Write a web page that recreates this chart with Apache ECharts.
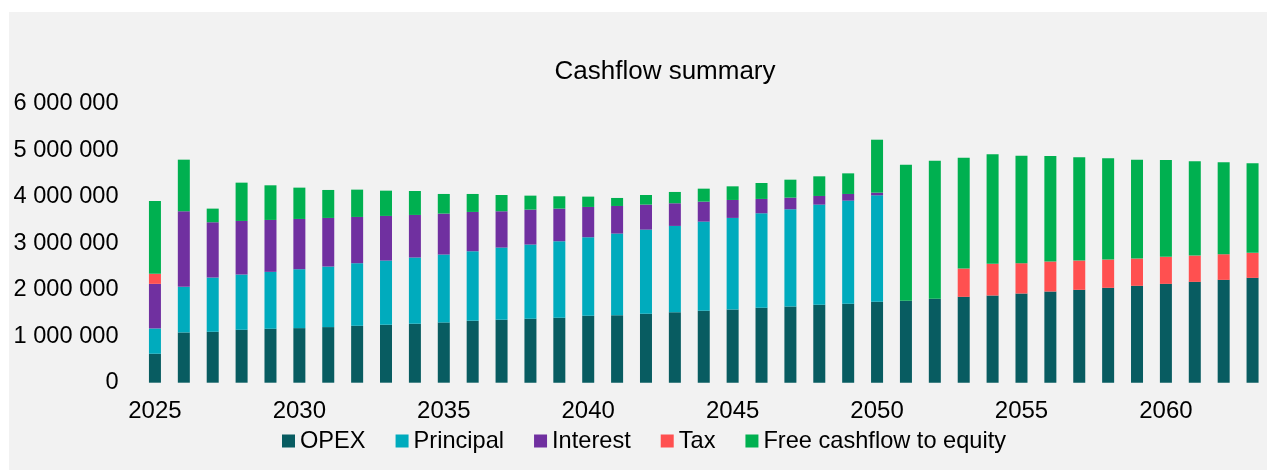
<!DOCTYPE html>
<html>
<head>
<meta charset="utf-8">
<script src="https://cdn.jsdelivr.net/npm/echarts@6/dist/echarts.min.js"></script>
<style>
  html, body { margin: 0; padding: 0; background: #ffffff; }
  #panel { position: absolute; left: 9px; top: 12px; width: 1258px; height: 458px; background: #f2f2f2; }
  #chart { position: absolute; left: 0; top: 0; width: 1267px; height: 470px; }
</style>
</head>
<body>
<div id="panel"></div>
<div id="chart"></div>
<script>
// Years of the cash flow projection
const years = [
  '2025','2026','2027','2028','2029','2030','2031','2032','2033','2034',
  '2035','2036','2037','2038','2039','2040','2041','2042','2043','2044',
  '2045','2046','2047','2048','2049','2050','2051','2052','2053','2054',
  '2055','2056','2057','2058','2059','2060','2061','2062','2063'
];

// Cash flow components per year
const opex = [
  622000, 1080000, 1094000, 1137000, 1159000, 1173000, 1195000, 1223000, 1245000, 1266000,
  1295000, 1330000, 1352000, 1373000, 1395000, 1438000, 1452000, 1481000, 1516000, 1545000,
  1574000, 1609000, 1638000, 1674000, 1695000, 1738000, 1760000, 1803000, 1845000, 1874000,
  1917000, 1960000, 1996000, 2039000, 2082000, 2124000, 2167000, 2210000, 2253000
];
const principal = [
  544000, 980000, 1166000, 1188000, 1223000, 1266000, 1301000, 1345000, 1380000, 1424000,
  1459000, 1495000, 1552000, 1596000, 1645000, 1688000, 1753000, 1809000, 1853000, 1917000,
  1967000, 2032000, 2089000, 2153000, 2218000, 2289000, 0, 0, 0, 0,
  0, 0, 0, 0, 0, 0, 0, 0, 0
];
const interest = [
  958000, 1624000, 1188000, 1151000, 1116000, 1080000, 1045000, 994000, 959000, 915000,
  880000, 845000, 780000, 751000, 701000, 651000, 593000, 537000, 487000, 429000,
  386000, 308000, 250000, 186000, 143000, 57000, 0, 0, 0, 0,
  0, 0, 0, 0, 0, 0, 0, 0, 0
];
const tax = [
  215000, 0, 0, 0, 0, 0, 0, 0, 0, 0,
  0, 0, 0, 0, 0, 0, 0, 0, 0, 0,
  0, 0, 0, 0, 0, 0, 0, 0, 609000, 680000,
  651000, 644000, 629000, 608000, 586000, 580000, 565000, 551000, 537000
];
const fcfe = [
  1567000, 1109000, 293000, 823000, 744000, 673000, 601000, 587000, 543000, 515000,
  422000, 386000, 350000, 300000, 265000, 222000, 172000, 207000, 243000, 279000,
  293000, 343000, 386000, 422000, 443000, 1138000, 2925000, 2968000, 2382000, 2353000,
  2310000, 2267000, 2218000, 2174000, 2125000, 2081000, 2025000, 1974000, 1924000
];

// Y axis tick values
const yTicks = [0, 1000000, 2000000, 3000000, 4000000, 5000000, 6000000];

const seriesDefs = [
  { name: 'OPEX', data: opex, color: '#085c61' },
  { name: 'Principal', data: principal, color: '#00abbd' },
  { name: 'Interest', data: interest, color: '#7030a0' },
  { name: 'Tax', data: tax, color: '#ff5050' },
  { name: 'Free cashflow to equity', data: fcfe, color: '#00b050' }
];

const fontFamily = 'Liberation Sans, Arial, sans-serif';
const fmt = v => String(v).replace(/\B(?=(\d{3})+(?!\d))/g, ' ');

const chart = echarts.init(document.getElementById('chart'), null, { renderer: 'canvas' });
chart.setOption({
  backgroundColor: 'transparent',
  animation: false,
  title: {
    text: 'Cashflow summary',
    left: 660,
    textAlign: 'center',
    top: 54,
    textStyle: { fontFamily, fontSize: 26, fontWeight: 'normal', color: '#000000' }
  },
  legend: {
    left: 277,
    top: 424,
    icon: 'rect',
    itemWidth: 13,
    itemHeight: 13,
    itemGap: 30,
    textStyle: { fontFamily, fontSize: 23.6, color: '#000000' },
    data: seriesDefs.map(s => s.name)
  },
  grid: { left: 140.5, top: 103.5, width: 1129, height: 279.2, containLabel: false },
  xAxis: {
    type: 'category',
    data: years,
    boundaryGap: true,
    axisLine: { show: false },
    axisTick: { show: false },
    axisLabel: {
      interval: 4,
      margin: 17,
      fontFamily, fontSize: 24, color: '#000000'
    }
  },
  yAxis: {
    type: 'value',
    min: yTicks[0],
    max: yTicks[yTicks.length - 1],
    interval: yTicks[1] - yTicks[0],
    splitLine: { show: false },
    axisLine: { show: false },
    axisTick: { show: false },
    axisLabel: {
      margin: 22,
      fontFamily, fontSize: 23.6, color: '#000000',
      formatter: fmt
    }
  },
  series: seriesDefs.map(s => ({
    name: s.name,
    type: 'bar',
    stack: 'total',
    barWidth: 12,
    data: s.data,
    itemStyle: { color: s.color }
  }))
});
</script>
</body>
</html>
